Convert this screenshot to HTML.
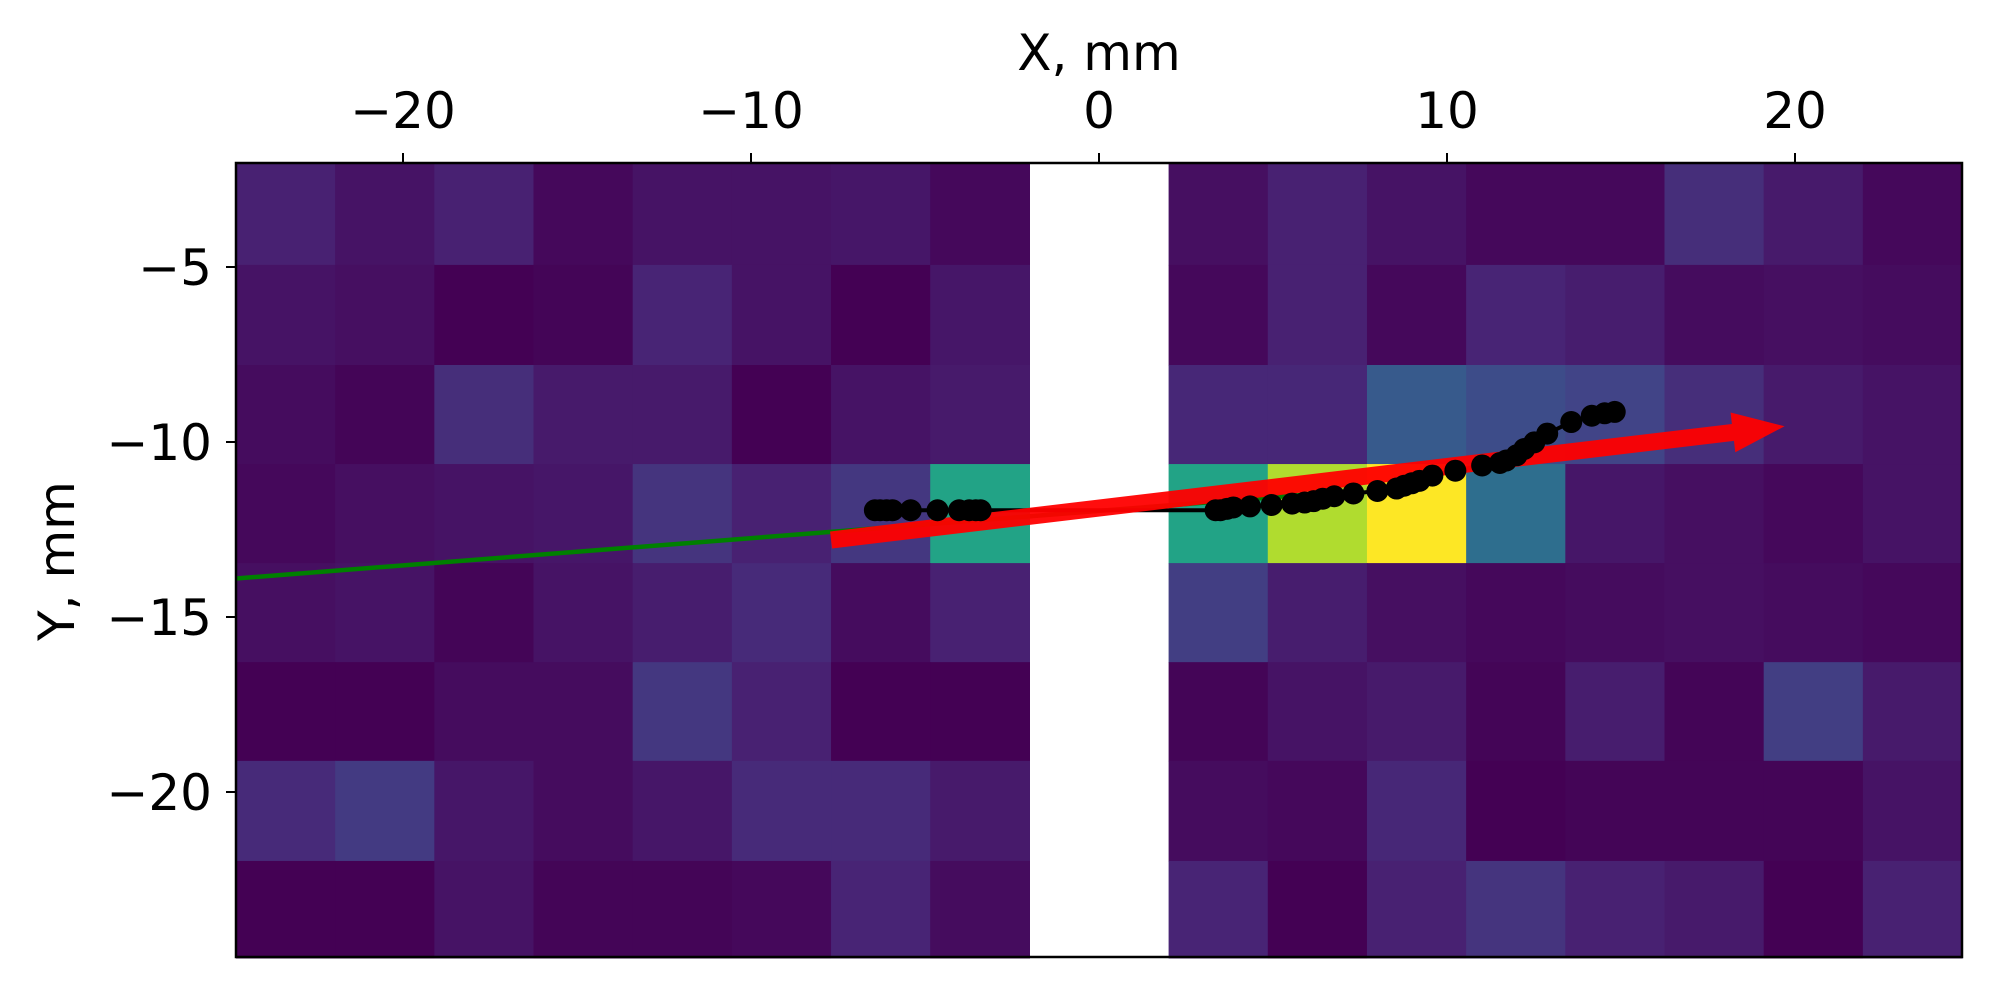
<!DOCTYPE html>
<html><head><meta charset="utf-8"><style>
body{margin:0;background:#fff}
svg text{font-family:"DejaVu Sans","Liberation Sans",sans-serif;fill:#000}
</style></head><body>
<svg id="chart" width="2000" height="1000" xmlns="http://www.w3.org/2000/svg">
<g id="cells"></g>
<g id="lines"></g>
<g id="axes"></g>
</svg>
<script>
const xEdges=[-24.8,-21.95,-19.1,-16.25,-13.4,-10.55,-7.7,-4.85,-2,2,4.85,7.7,10.55,13.4,16.25,19.1,21.95,24.8];
const yEdges=[-2.03,-4.94,-7.8,-10.63,-13.46,-16.29,-19.11,-21.97,-24.74];
const gapIndex=8;
const cellValues=[
[0.09,0.05,0.09,0.02,0.05,0.05,0.06,0.02,0.04,0.09,0.05,0.02,0.02,0.13,0.07,0.02],
[0.05,0.04,0.00,0.01,0.10,0.05,0.00,0.06,0.02,0.09,0.02,0.10,0.08,0.03,0.04,0.03],
[0.03,0.01,0.13,0.07,0.07,0.00,0.05,0.07,0.11,0.11,0.28,0.23,0.20,0.13,0.07,0.05],
[0.02,0.04,0.05,0.06,0.15,0.09,0.16,0.58,0.58,0.88,1.00,0.36,0.06,0.04,0.02,0.05],
[0.04,0.05,0.01,0.05,0.08,0.12,0.03,0.09,0.18,0.08,0.04,0.02,0.03,0.04,0.03,0.02],
[0.00,0.00,0.03,0.03,0.16,0.09,0.00,0.00,0.01,0.05,0.07,0.01,0.08,0.01,0.18,0.07],
[0.12,0.17,0.06,0.03,0.06,0.12,0.12,0.07,0.03,0.02,0.11,0.00,0.01,0.01,0.01,0.05],
[0.00,0.00,0.05,0.01,0.01,0.02,0.10,0.03,0.10,0.00,0.09,0.15,0.09,0.07,0.00,0.09]];
const hitX=[-6.44,-6.29,-6.11,-5.93,-5.41,-4.64,-4.02,-3.73,-3.54,-3.40,3.35,3.49,3.68,3.86,4.34,4.96,5.55,5.91,6.17,6.43,6.76,7.31,8.00,8.55,8.77,8.99,9.21,9.58,10.24,11.01,11.52,11.70,12.00,12.22,12.51,12.88,13.57,14.16,14.53,14.82];
const hitY=[-11.95,-11.95,-11.95,-11.95,-11.95,-11.95,-11.95,-11.95,-11.95,-11.95,-11.95,-11.95,-11.91,-11.87,-11.84,-11.80,-11.76,-11.73,-11.69,-11.62,-11.55,-11.47,-11.40,-11.33,-11.25,-11.18,-11.11,-10.96,-10.82,-10.67,-10.60,-10.53,-10.38,-10.20,-10.01,-9.76,-9.43,-9.25,-9.18,-9.14];
const greenLine=[[-24.8,-13.9],[6,-11.5]];
const arrowFrom=[-7.7,-12.8];
const arrowTo=[19.7,-9.55];
const xTicks=[-20,-10,0,10,20];
const yTicks=[-5,-10,-15,-20];

const X0=236,X1=1962,Y0=163,Y1=957;
const sx=v=>1099+34.8*v;
const sy=v=>92-35*v;
const NS="http://www.w3.org/2000/svg";
function mk(tag,parent,attrs){const e=document.createElementNS(NS,tag);for(const k in attrs)e.setAttribute(k,attrs[k]);parent.appendChild(e);return e;}
const vir=[[68,1,84],[72,36,117],[65,68,135],[53,95,141],[42,120,142],[33,145,140],[34,168,132],[68,191,112],[122,209,81],[189,223,38],[253,231,37]];
function viridis(t){t=Math.max(0,Math.min(1,t))*10;const i=Math.min(9,Math.floor(t)),f=t-i;const a=vir[i],b=vir[i+1];return `rgb(${a.map((c,k)=>Math.round(c+(b[k]-c)*f)).join(',')})`;}

const cells=document.getElementById('cells');
cellValues.forEach((row,r)=>{
  let ci=0;
  for(let c=0;c<xEdges.length-1;c++){
    if(c===gapIndex)continue;
    const v=row[ci++];
    const x=sx(xEdges[c]),w=sx(xEdges[c+1])-x,y=sy(yEdges[r]),h=sy(yEdges[r+1])-y;
    const el=mk('rect',cells,{x:x,y:y,width:w+0.6,height:h+0.6,fill:viridis(v)});
    
    
  }
});
const lines=document.getElementById('lines');
const g=mk('line',lines,{x1:sx(greenLine[0][0]),y1:sy(greenLine[0][1]),x2:sx(greenLine[1][0]),y2:sy(greenLine[1][1]),stroke:'#008000','stroke-width':4.5});


const pl=mk('polyline',lines,{points:hitX.map((x,i)=>sx(x)+','+sy(hitY[i])).join(' '),fill:'none',stroke:'#000','stroke-width':4});


(function(){
  const x1=sx(arrowFrom[0]),y1=sy(arrowFrom[1]),x2=sx(arrowTo[0]),y2=sy(arrowTo[1]);
  const dx=x2-x1,dy=y2-y1,L=Math.hypot(dx,dy),ux=dx/L,uy=dy/L,nx=-uy,ny=ux;
  const sw=8.5,hw=20,hl=52;const bx=x2-ux*hl,by=y2-uy*hl;
  const p=[[x1+nx*sw,y1+ny*sw],[bx+nx*sw,by+ny*sw],[bx+nx*hw,by+ny*hw],[x2,y2],[bx-nx*hw,by-ny*hw],[bx-nx*sw,by-ny*sw],[x1-nx*sw,y1-ny*sw]];
  const a=mk('polygon',lines,{points:p.map(q=>q.join(',')).join(' '),fill:'#f00',opacity:0.95});
  
  
})();
hitX.forEach((x,i)=>{
  const d=mk('circle',lines,{cx:sx(x),cy:sy(hitY[i]),r:11,fill:'#000'});
  
  
});
const axes=document.getElementById('axes');
const fr=mk('rect',axes,{x:X0,y:Y0,width:X1-X0,height:Y1-Y0,fill:'none',stroke:'#000','stroke-width':2.5});


xTicks.forEach(t=>{
  const x=sx(t);
  mk('line',axes,{x1:x,y1:Y0,x2:x,y2:Y0-10,stroke:'#000','stroke-width':2});
  const tx=mk('text',axes,{x:x,y:128,'font-size':50,'text-anchor':'middle'});
  tx.textContent=(t<0?'\u2212':'')+Math.abs(t);
  
  
});
yTicks.forEach(t=>{
  const y=sy(t);
  mk('line',axes,{x1:X0,y1:y,x2:X0-10,y2:y,stroke:'#000','stroke-width':2});
  const tx=mk('text',axes,{x:212,y:y+18,'font-size':50,'text-anchor':'end'});
  tx.textContent='\u2212'+Math.abs(t);
  
  
});
const xl=mk('text',axes,{x:1099,y:70,'font-size':50,'text-anchor':'middle'});
xl.textContent='X, mm';


const yl=mk('text',axes,{x:74,y:561,'font-size':50,'text-anchor':'middle',transform:'rotate(-90 74 561)'});
yl.textContent='Y, mm';


</script>
</body></html>
